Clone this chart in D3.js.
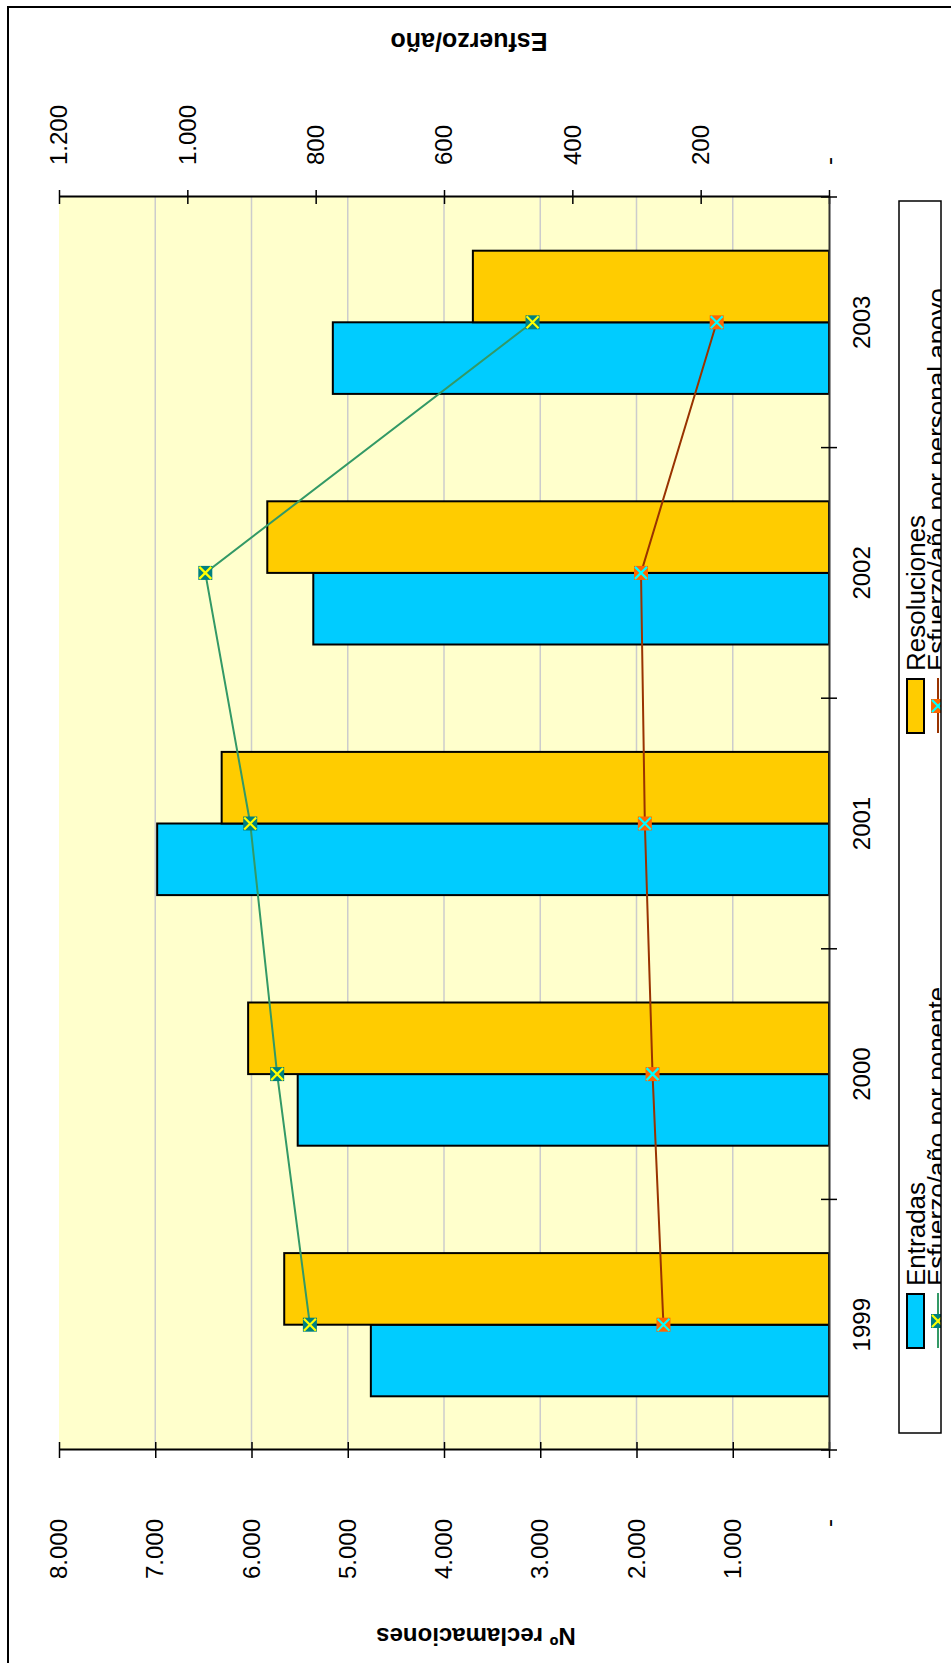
<!DOCTYPE html>
<html>
<head>
<meta charset="utf-8">
<script src="https://cdn.jsdelivr.net/npm/d3@7"></script>
<style>
  body { margin: 0; background: #fff; }
  svg text { font-family: "Liberation Sans", Arial, sans-serif; }
</style>
</head>
<body>
<div id="chart"></div>
<script>
// datos
const years = ['1999', '2000', '2001', '2002', '2003']
const entradas = [4760, 5520, 6980, 5358, 5155]
const resoluciones = [5660, 6035, 6310, 5836, 3700]
const porPonente = [809, 860, 902, 972, 462]
const porApoyo = [258, 275, 287, 293, 175]
const leftTicks = [0, 1000, 2000, 3000, 4000, 5000, 6000, 7000, 8000]
const rightTicks = [0, 200, 400, 600, 800, 1000, 1200]
const barNames = ['Entradas', 'Resoluciones']
const lineNames = ['Esfuerzo/año por ponente', 'Esfuerzo/año por personal apoyo']

const W = 951, H = 1663
const svg = d3.select('#chart').append('svg')
    .attr('width', W)
    .attr('height', H)

// marco exterior (se sale de la imagen por la derecha y por abajo)
svg.append('rect')
    .attr('x', 8).attr('y', 7)
    .attr('width', 1000).attr('height', 1700)
    .attr('fill', 'none')
    .attr('stroke', '#000')
    .attr('stroke-width', 2)

// el grafico se dibuja "de pie" y luego se gira 90 grados
const g = svg.append('g').attr('transform', `translate(0,${H}) rotate(-90)`)
const plot = { left: 213, right: 1466, top: 59, bottom: 829 }

const x0 = d3.scaleBand().domain(years).range([plot.left, plot.right])
const x1 = d3.scaleBand().domain(barNames).range([0, x0.bandwidth()]).paddingOuter(0.75)
const y = d3.scaleLinear().domain([0, 8000]).range([plot.bottom, plot.top])
const y2 = d3.scaleLinear().domain([0, 1200]).range([plot.bottom, plot.top])

const barColors = ['#00ccff', '#ffcc00']
const lineColors = ['#339966', '#993300']
const markerFill = ['#008080', '#ff6600']
const markerCross = ['#ffff00', '#00ffff']

g.append('rect')
    .attr('x', plot.left).attr('y', plot.top)
    .attr('width', plot.right - plot.left)
    .attr('height', plot.bottom - plot.top)
    .attr('fill', '#ffffcc')

g.append('g').selectAll('line')
    .data(leftTicks.filter(d => d > 0 && d < 8000))
    .enter().append('line')
    .attr('x1', plot.left).attr('x2', plot.right)
    .attr('y1', d => y(d)).attr('y2', d => y(d))
    .attr('stroke', '#cccccc')
    .attr('stroke-width', 1.5)

// barras
const series = [entradas, resoluciones]
series.forEach((vals, s) => {
    g.append('g').selectAll('rect')
        .data(vals)
        .enter().append('rect')
        .attr('x', (d, i) => x0(years[i]) + x1(barNames[s]))
        .attr('y', d => y(d))
        .attr('width', x1.bandwidth())
        .attr('height', d => y(0) - y(d))
        .attr('fill', barColors[s])
        .attr('stroke', '#000')
        .attr('stroke-width', 2)
})

const fmt = d3.formatLocale({ decimal: ',', thousands: '.', grouping: [3], currency: ['', ''] }).format(',d')
const tickFmt = d => d === 0 ? '-' : fmt(d)

function styleAxis(ax) {
    ax.attr('font-size', 24)
        .attr('font-family', '"Liberation Sans", Arial, sans-serif')
    ax.select('.domain').attr('stroke', '#000').attr('stroke-width', 2)
    ax.selectAll('.tick text').attr('fill', '#000')
}

const axL = g.append('g')
    .attr('transform', `translate(${plot.left},0)`)
    .call(d3.axisLeft(y).tickValues(leftTicks).tickFormat(tickFmt).tickSize(0).tickPadding(69))
styleAxis(axL)
axL.selectAll('.tick line').attr('x1', -8).attr('x2', 8).attr('stroke', '#000').attr('stroke-width', 1.5)

const axR = g.append('g')
    .attr('transform', `translate(${plot.right},0)`)
    .call(d3.axisRight(y2).tickValues(rightTicks).tickFormat(tickFmt).tickSize(0).tickPadding(32))
styleAxis(axR)
axR.selectAll('.tick line').attr('x1', -7).attr('x2', 7).attr('stroke', '#000').attr('stroke-width', 1.5)

const axB = g.append('g')
    .attr('transform', `translate(0,${plot.bottom})`)
    .call(d3.axisBottom(x0).tickSize(0).tickPadding(24))
styleAxis(axB)
axB.select('.domain').attr('stroke', '#333')
axB.selectAll('.tick line').remove()
axB.append('g').selectAll('line')
    .data(d3.range(years.length + 1))
    .enter().append('line')
    .attr('x1', i => plot.left + i * x0.step())
    .attr('x2', i => plot.left + i * x0.step())
    .attr('y1', -8).attr('y2', 8)
    .attr('stroke', '#000')
    .attr('stroke-width', 1.5)

// lineas sobre el eje secundario
function drawMarker(sel, s) {
    sel.append('rect')
        .attr('x', -7).attr('y', -7)
        .attr('width', 14).attr('height', 14)
        .attr('fill', markerFill[s])
    sel.append('path')
        .attr('d', 'M-6,-6L6,6M-6,6L6,-6')
        .attr('stroke', markerCross[s])
        .attr('stroke-width', 2.2)
}

const cx = i => x0(years[i]) + x0.bandwidth() / 2
const line = d3.line().x((d, i) => cx(i)).y(d => y2(d))

const lineSeries = [porPonente, porApoyo]
lineSeries.forEach((vals, s) => {
    g.append('path')
        .attr('d', line(vals))
        .attr('fill', 'none')
        .attr('stroke', lineColors[s])
        .attr('stroke-width', 2)
})
lineSeries.forEach((vals, s) => {
    g.append('g').selectAll('g')
        .data(vals)
        .enter().append('g')
        .attr('transform', (d, i) => `translate(${cx(i)},${y2(d)})`)
        .each(function () { drawMarker(d3.select(this), s) })
})

// titulos de los ejes
g.append('text')
    .attr('transform', 'translate(27,476) rotate(-90)')
    .attr('text-anchor', 'middle')
    .attr('dominant-baseline', 'central')
    .attr('font-size', 24)
    .attr('font-weight', 'bold')
    .text('Nº reclamaciones')

g.append('text')
    .attr('transform', 'translate(1621,469) rotate(-90)')
    .attr('text-anchor', 'middle')
    .attr('dominant-baseline', 'central')
    .attr('font-size', 25)
    .attr('font-weight', 'bold')
    .text('Esfuerzo/año')

// leyenda (recortada por su propio marco)
const lg = { x: 230, y: 899, w: 1232, h: 42 }
g.append('clipPath').attr('id', 'legclip')
    .append('rect')
    .attr('x', lg.x).attr('y', lg.y)
    .attr('width', lg.w).attr('height', lg.h)

g.append('rect')
    .attr('x', lg.x).attr('y', lg.y)
    .attr('width', lg.w).attr('height', lg.h)
    .attr('fill', '#fff')

const leg = g.append('g').attr('clip-path', 'url(#legclip)')
const colX = [315, 930]

barNames.forEach((name, s) => {
    leg.append('rect')
        .attr('x', colX[s]).attr('y', 907)
        .attr('width', 54).attr('height', 17)
        .attr('fill', barColors[s])
        .attr('stroke', '#000')
        .attr('stroke-width', 2)
    leg.append('text')
        .attr('x', colX[s] + 62).attr('y', 925)
        .attr('font-size', 26)
        .text(name)
})

lineNames.forEach((name, s) => {
    leg.append('line')
        .attr('x1', colX[s]).attr('x2', colX[s] + 55)
        .attr('y1', 938).attr('y2', 938)
        .attr('stroke', lineColors[s])
        .attr('stroke-width', 2)
    leg.append('g')
        .attr('transform', `translate(${colX[s] + 27},938)`)
        .call(sel => drawMarker(sel, s))
    leg.append('text')
        .attr('x', colX[s] + 62).attr('y', 946)
        .attr('font-size', 26)
        .text(name)
})

g.append('rect')
    .attr('x', lg.x).attr('y', lg.y)
    .attr('width', lg.w).attr('height', lg.h)
    .attr('fill', 'none')
    .attr('stroke', '#000')
    .attr('stroke-width', 1.5)
</script>
</body>
</html>
